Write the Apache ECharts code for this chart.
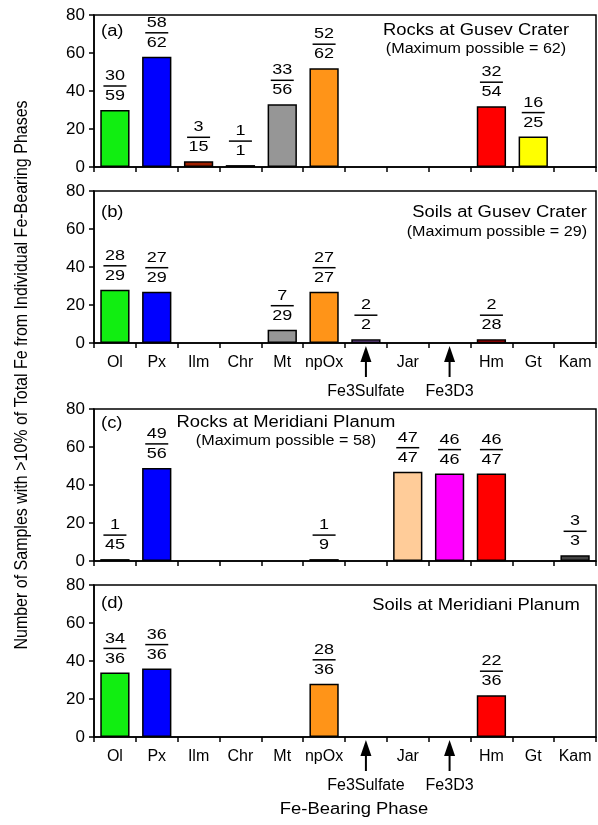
<!DOCTYPE html>
<html>
<head>
<meta charset="utf-8">
<script src="https://cdn.jsdelivr.net/npm/echarts@6/dist/echarts.min.js"></script>
<style>
  html, body { margin: 0; padding: 0; background: #fff; }
  #chart { width: 598px; height: 825px; }
</style>
</head>
<body>
<div id="chart"></div>
<script>
// Fe-bearing phases (x categories); two of them are only labelled with arrows
const phases = ['Ol', 'Px', 'Ilm', 'Chr', 'Mt', 'npOx', 'Fe3Sulfate', 'Jar', 'Fe3D3', 'Hm', 'Gt', 'Kam'];
const axisLabels = ['Ol', 'Px', 'Ilm', 'Chr', 'Mt', 'npOx', '', 'Jar', '', 'Hm', 'Gt', 'Kam'];
const arrowPhases = [6, 8];
const phaseColors = ['#11ee11', '#0000ff', '#a02000', '#222222', '#969696', '#ff9418',
                     '#9966cc', '#ffcc99', '#ff00ff', '#ff0000', '#ffff00', '#444444'];

// numerator (samples with the phase) and denominator (samples analysed), null = none
const rocksGusevNum = [30, 58, 3, 1, 33, 52, null, null, null, 32, 16, null];
const rocksGusevDen = [59, 62, 15, 1, 56, 62, null, null, null, 54, 25, null];
const soilsGusevNum = [28, 27, null, null, 7, 27, 2, null, null, 2, null, null];
const soilsGusevDen = [29, 29, null, null, 29, 27, 2, null, null, 28, null, null];
const rocksMeridNum = [1, 49, null, null, null, 1, null, 47, 46, 46, null, 3];
const rocksMeridDen = [45, 56, null, null, null, 9, null, 47, 46, 47, null, 3];
const soilsMeridNum = [34, 36, null, null, null, 28, null, null, null, 22, null, null];
const soilsMeridDen = [36, 36, null, null, null, 36, null, null, null, 36, null, null];

const yTicks = [0, 20, 40, 60, 80];

const FONT = '"Liberation Sans", Arial, sans-serif';
const SX = 1.15; // the original figure is slightly stretched horizontally

const panels = [
  { num: rocksGusevNum, den: rocksGusevDen, top: 15, labels: false },
  { num: soilsGusevNum, den: soilsGusevDen, top: 191, labels: true },
  { num: rocksMeridNum, den: rocksMeridDen, top: 409, labels: false },
  { num: soilsMeridNum, den: soilsMeridDen, top: 585, labels: true }
];

const chart = echarts.init(document.getElementById('chart'), null, { renderer: 'canvas' });

const grid = [], xAxis = [], yAxis = [], series = [];

panels.forEach(function (p, i) {
  grid.push({
    left: 94, width: 502, top: p.top, height: 152,
    show: true, borderColor: '#000', borderWidth: 1.5, backgroundColor: 'transparent'
  });
  xAxis.push({
    type: 'category', gridIndex: i, data: phases, boundaryGap: true,
    axisLine: { lineStyle: { color: '#000', width: 1.5 } },
    axisTick: { show: true, inside: false, length: 5, interval: 0, lineStyle: { color: '#000', width: 1.5 } },
    axisLabel: {
      show: p.labels, interval: 0, margin: 12, color: '#000', fontSize: 16, fontFamily: FONT,
      formatter: function (v, idx) { return axisLabels[idx]; }
    },
    splitLine: { show: false }
  });
  yAxis.push({
    type: 'value', gridIndex: i, min: yTicks[0], max: yTicks[yTicks.length - 1], interval: 20,
    axisLine: { show: true, lineStyle: { color: '#000', width: 1.5 } },
    axisTick: { show: true, length: 5, lineStyle: { color: '#000', width: 1.5 } },
    axisLabel: { color: '#000', fontSize: 17, fontFamily: FONT, margin: 9 },
    splitLine: { show: false }
  });

  // bars
  series.push({
    type: 'bar', xAxisIndex: i, yAxisIndex: i, barWidth: '70%',
    data: p.num.map(function (v, k) {
      return { value: v, itemStyle: { color: phaseColors[k] } };
    }),
    itemStyle: { borderColor: '#000', borderWidth: 1.5 },
    silent: true, animation: false
  });

  // fraction labels above each bar
  const fracData = [];
  p.num.forEach(function (v, k) {
    if (v !== null) fracData.push([k, v, p.den[k]]);
  });
  series.push({
    type: 'custom', xAxisIndex: i, yAxisIndex: i, data: fracData,
    encode: { x: 0, y: 1 }, silent: true, animation: false,
    renderItem: function (params, api) {
      const pt = api.coord([api.value(0), api.value(1)]);
      const ly = pt[1] - 24;
      return {
        type: 'group',
        children: [
          { type: 'line', shape: { x1: pt[0] - 11.5, y1: ly, x2: pt[0] + 11.5, y2: ly },
            style: { stroke: '#000', lineWidth: 1.5 } },
          { type: 'text', x: pt[0], y: ly - 10, scaleX: 1.2,
            style: { text: String(api.value(1)), align: 'center', verticalAlign: 'middle',
                     fill: '#000', font: '15px ' + FONT } },
          { type: 'text', x: pt[0], y: ly + 10, scaleX: 1.2,
            style: { text: String(api.value(2)), align: 'center', verticalAlign: 'middle',
                     fill: '#000', font: '15px ' + FONT } }
        ]
      };
    }
  });

  // arrows pointing at the unlabelled categories
  if (p.labels) {
    series.push({
      type: 'custom', xAxisIndex: i, yAxisIndex: i,
      data: arrowPhases.map(function (k) { return [k, 0]; }),
      encode: { x: 0, y: 1 }, silent: true, animation: false,
      renderItem: function (params, api) {
        const pt = api.coord([api.value(0), 0]);
        const x = pt[0], y = pt[1];
        return {
          type: 'group',
          children: [
            { type: 'line', shape: { x1: x, y1: y + 14, x2: x, y2: y + 34 },
              style: { stroke: '#000', lineWidth: 2 } },
            { type: 'polygon', shape: { points: [[x, y + 3], [x - 5.5, y + 19], [x + 5.5, y + 19]] },
              style: { fill: '#000' } },
            { type: 'text', x: x, y: y + 49,
              style: { text: phases[api.value(0)], align: 'center', verticalAlign: 'middle',
                       fill: '#000', font: '16px ' + FONT } }
          ]
        };
      }
    });
  }
});

function txt(x, y, text, size, align) {
  return {
    type: 'text', x: x, y: y, scaleX: SX, silent: true,
    style: { text: text, fill: '#000', font: size + 'px ' + FONT,
             align: align || 'center', verticalAlign: 'middle' }
  };
}

const graphic = [
  txt(101, 32, '(a)', 16, 'left'),
  txt(476, 31, 'Rocks at Gusev Crater', 16),
  txt(476, 49, '(Maximum possible = 62)', 14),
  txt(101, 213, '(b)', 16, 'left'),
  txt(587, 213, 'Soils at Gusev Crater', 16, 'right'),
  txt(587, 232, '(Maximum possible = 29)', 14, 'right'),
  txt(101, 424, '(c)', 16, 'left'),
  txt(286, 423, 'Rocks at Meridiani Planum', 16),
  txt(286, 441, '(Maximum possible = 58)', 14),
  txt(101, 604, '(d)', 16, 'left'),
  txt(476, 606, 'Soils at Meridiani Planum', 16),
  txt(354, 810, 'Fe-Bearing Phase', 16),
  {
    type: 'text', x: 22, y: 375, rotation: Math.PI / 2, scaleY: SX, silent: true,
    style: { text: 'Number of Samples with >10% of Total Fe from Individual Fe-Bearing Phases',
             fill: '#000', font: '16px ' + FONT, align: 'center', verticalAlign: 'middle' }
  }
];

chart.setOption({
  animation: false,
  backgroundColor: '#fff',
  grid: grid,
  xAxis: xAxis,
  yAxis: yAxis,
  series: series,
  graphic: graphic
});
</script>
</body>
</html>
